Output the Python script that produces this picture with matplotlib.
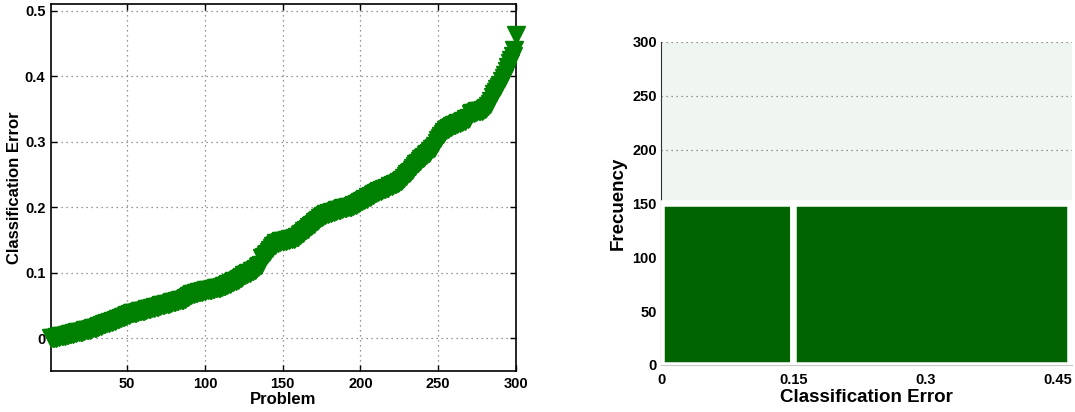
import numpy as np
import matplotlib
matplotlib.use("Agg")
import matplotlib.pyplot as plt

# ---------------- data ----------------
# sorted classification error per problem
problems = np.arange(1, 301)
class_error = [
    0.000, 0.000, 0.001, 0.001, 0.002, 0.002, 0.003, 0.003, 0.004, 0.004,
    0.005, 0.005, 0.006, 0.006, 0.007, 0.008, 0.008, 0.009, 0.009, 0.010,
    0.010, 0.011, 0.012, 0.012, 0.013, 0.013, 0.014, 0.015, 0.015, 0.016,
    0.017, 0.018, 0.019, 0.020, 0.021, 0.022, 0.023, 0.024, 0.025, 0.025,
    0.026, 0.027, 0.028, 0.029, 0.030, 0.031, 0.032, 0.033, 0.034, 0.035,
    0.036, 0.037, 0.038, 0.038, 0.039, 0.039, 0.040, 0.041, 0.041, 0.042,
    0.042, 0.043, 0.044, 0.044, 0.045, 0.046, 0.046, 0.047, 0.048, 0.048,
    0.049, 0.050, 0.050, 0.051, 0.052, 0.052, 0.053, 0.054, 0.055, 0.055,
    0.056, 0.057, 0.057, 0.058, 0.058, 0.059, 0.060, 0.061, 0.063, 0.064,
    0.066, 0.067, 0.068, 0.069, 0.069, 0.070, 0.071, 0.071, 0.072, 0.072,
    0.073, 0.073, 0.074, 0.074, 0.075, 0.075, 0.076, 0.076, 0.077, 0.077,
    0.078, 0.079, 0.080, 0.081, 0.082, 0.083, 0.084, 0.086, 0.087, 0.088,
    0.089, 0.090, 0.092, 0.094, 0.096, 0.097, 0.098, 0.099, 0.100, 0.102,
    0.103, 0.104, 0.106, 0.108, 0.110, 0.112, 0.122, 0.124, 0.127, 0.129,
    0.131, 0.134, 0.137, 0.140, 0.143, 0.145, 0.146, 0.147, 0.148, 0.148,
    0.149, 0.149, 0.150, 0.150, 0.151, 0.152, 0.152, 0.153, 0.154, 0.155,
    0.157, 0.159, 0.161, 0.163, 0.165, 0.167, 0.169, 0.171, 0.173, 0.175,
    0.177, 0.179, 0.181, 0.183, 0.185, 0.187, 0.188, 0.189, 0.190, 0.191,
    0.191, 0.192, 0.193, 0.194, 0.195, 0.196, 0.196, 0.197, 0.198, 0.198,
    0.199, 0.200, 0.200, 0.201, 0.202, 0.203, 0.204, 0.205, 0.206, 0.208,
    0.209, 0.211, 0.212, 0.213, 0.215, 0.216, 0.217, 0.219, 0.220, 0.222,
    0.223, 0.224, 0.225, 0.226, 0.227, 0.228, 0.229, 0.230, 0.232, 0.233,
    0.234, 0.235, 0.236, 0.237, 0.238, 0.240, 0.242, 0.245, 0.247, 0.250,
    0.252, 0.254, 0.257, 0.260, 0.263, 0.266, 0.268, 0.271, 0.273, 0.275,
    0.277, 0.279, 0.281, 0.283, 0.285, 0.288, 0.291, 0.294, 0.298, 0.303,
    0.306, 0.309, 0.312, 0.315, 0.317, 0.319, 0.321, 0.322, 0.324, 0.325,
    0.326, 0.327, 0.328, 0.329, 0.330, 0.331, 0.332, 0.334, 0.335, 0.336,
    0.342, 0.343, 0.344, 0.345, 0.346, 0.346, 0.347, 0.347, 0.348, 0.350,
    0.352, 0.355, 0.358, 0.362, 0.368, 0.372, 0.376, 0.380, 0.384, 0.387,
    0.392, 0.397, 0.402, 0.408, 0.414, 0.420, 0.425, 0.430, 0.440, 0.463,
]

# histogram (right panel)
bin_edges = [0.0, 0.15, 0.464]
bin_counts = [150, 150]

left_xticks = [50, 100, 150, 200, 250, 300]
left_yticks = [0, 0.1, 0.2, 0.3, 0.4, 0.5]
left_yticklabels = ["0", "0.1", "0.2", "0.3", "0.4", "0.5"]
right_xticks = [0, 0.15, 0.3, 0.45]
right_xticklabels = ["0", "0.15", "0.3", "0.45"]
right_yticks = [0, 50, 100, 150, 200, 250, 300]

# ---- global style ----
plt.rcParams["font.family"] = ["Liberation Sans", "DejaVu Sans"]
plt.rcParams["font.weight"] = "bold"
plt.rcParams["axes.labelweight"] = "bold"

GRID = dict(linestyle=(0, (1, 3)), color="#777777", linewidth=0.9)

fig = plt.figure(figsize=(10.75, 4.12), dpi=100)

# ---------------- left: sorted errors ----------------
ax1 = fig.add_axes([0.0474, 0.0995, 0.4326, 0.8908])
ax1.plot(problems, class_error, linestyle="none", marker="v", markersize=12.5,
         color="#008000", markeredgecolor="#008000", clip_on=False, zorder=3)
ax1.set_xlim(1, 300)
ax1.set_ylim(-0.05, 0.51)
ax1.set_xticks(left_xticks)
ax1.set_yticks(left_yticks)
ax1.set_yticklabels(left_yticklabels)
ax1.tick_params(direction="in", length=4, width=1, top=True, right=True,
                labelsize=10.5, pad=4)
ax1.grid(True, **GRID)
for s in ax1.spines.values():
    s.set_linewidth(1.2)
ax1.set_xlabel("Problem", fontsize=12, labelpad=1)
ax1.set_ylabel("Classification Error", fontsize=12, labelpad=2)

# ---------------- right: histogram ----------------
ax2 = fig.add_axes([0.6149, 0.1141, 0.3823, 0.784])
ax2.set_facecolor("#eff5f1")
widths = np.diff(bin_edges)
ax2.bar(bin_edges[:-1], bin_counts, width=widths, align="edge",
        color="#006400", edgecolor="white", linewidth=4.7, zorder=3)
ax2.set_xlim(0, 0.466)
ax2.set_ylim(0, 300)
ax2.set_xticks(right_xticks)
ax2.set_xticklabels(right_xticklabels)
ax2.set_yticks(right_yticks)
ax2.tick_params(axis="y", length=0, labelsize=10.5, pad=3)
ax2.tick_params(axis="x", length=0, labelsize=10.5, pad=6)
ax2.yaxis.grid(True, zorder=1, **GRID)
ax2.set_axisbelow(True)
ax2.spines["top"].set_visible(False)
ax2.spines["right"].set_visible(False)
ax2.spines["left"].set_color("#333333")
ax2.spines["bottom"].set_color("#c8c8c8")
ax2.set_xlabel("Classification Error", fontsize=13.5, labelpad=1)
ax2.set_ylabel("Frecuency", fontsize=13.5, labelpad=4)

fig.savefig("out.png", dpi=100)
